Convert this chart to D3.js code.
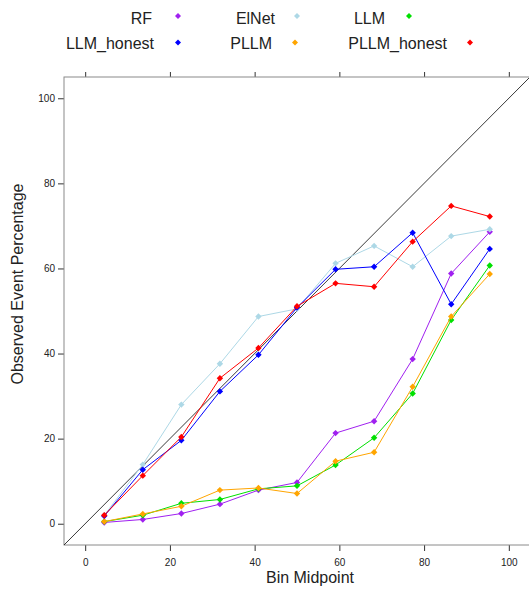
<!DOCTYPE html>
<html>
<head>
<meta charset="utf-8">
<script src="https://cdn.jsdelivr.net/npm/d3@7/dist/d3.min.js"></script>
<style>
  html, body { margin: 0; padding: 0; background: #fff; }
  svg { display: block; font-family: Arial, "Liberation Sans", sans-serif; }
</style>
</head>
<body>
<svg id="chart" width="529" height="594"></svg>
<script>
// ---- data ----
const binMid = [4.5, 13.6, 22.7, 31.8, 40.9, 50, 59.1, 68.2, 77.3, 86.4, 95.5];
const seriesNames = ["RF", "ElNet", "LLM", "LLM_honest", "PLLM", "PLLM_honest"];
const seriesColors = ["#a020f0", "#add8e6", "#00e000", "#0000ff", "#ffa500", "#ff0000"];
const RF          = [0.3, 1.0, 2.4, 4.6, 7.9, 9.7, 21.3, 24.1, 38.7, 58.8, 68.6];
const ElNet       = [2.0, 13.9, 28.0, 37.6, 48.7, 50.5, 61.2, 65.3, 60.4, 67.6, 69.2];
const LLM         = [0.5, 2.0, 4.8, 5.7, 8.2, 8.9, 13.8, 20.2, 30.6, 47.9, 60.7];
const LLM_honest  = [1.8, 12.7, 19.6, 31.1, 39.7, 50.8, 59.8, 60.4, 68.4, 51.6, 64.6];
const PLLM        = [0.5, 2.3, 4.1, 7.9, 8.4, 7.1, 14.7, 16.8, 32.2, 48.7, 58.7];
const PLLM_honest = [2.0, 11.3, 20.4, 34.2, 41.3, 51.1, 56.5, 55.7, 66.3, 74.7, 72.2];
const seriesValues = [RF, ElNet, LLM, LLM_honest, PLLM, PLLM_honest];
const tickValues = [0, 20, 40, 60, 80, 100];
const axisDomain = [-5, 105];
const xTitle = "Bin Midpoint";
const yTitle = "Observed Event Percentage";

// ---- layout ----
const svg = d3.select("#chart");
const L = 64, R = 530, T = 77, B = 545;
const x = d3.scaleLinear().domain(axisDomain).range([L, R]);
const y = d3.scaleLinear().domain(axisDomain).range([B, T]);

const frameCol = "#8a8a8a", tickCol = "#333";

// clip
svg.append("defs").append("clipPath").attr("id", "clip")
  .append("rect").attr("x", L).attr("y", T).attr("width", R - L).attr("height", B - T);

// axes (bottom/left with labels, top/right ticks only)
const axB = svg.append("g").attr("transform", `translate(0,${B})`)
  .call(d3.axisBottom(x).tickValues(tickValues).tickSize(6).tickPadding(8).tickSizeOuter(0));
const axL = svg.append("g").attr("transform", `translate(${L},0)`)
  .call(d3.axisLeft(y).tickValues(tickValues).tickSize(6).tickPadding(3).tickSizeOuter(0));
const axT = svg.append("g").attr("transform", `translate(0,${T})`)
  .call(d3.axisTop(x).tickValues(tickValues).tickSize(5).tickFormat("").tickSizeOuter(0));
const axR = svg.append("g").attr("transform", `translate(${R},0)`)
  .call(d3.axisRight(y).tickValues(tickValues).tickSize(5).tickFormat("").tickSizeOuter(0));
[axB, axL, axT, axR].forEach(g => {
  g.select(".domain").remove();
  g.selectAll(".tick line").attr("stroke", tickCol);
  g.selectAll(".tick text").attr("fill", "#222").style("font-size", "10px")
    .style("font-family", "Arial, 'Liberation Sans', sans-serif");
});

// frame
svg.append("rect").attr("x", L).attr("y", T).attr("width", R - L).attr("height", B - T)
  .attr("fill", "none").attr("stroke", frameCol).attr("stroke-width", 1);

const plot = svg.append("g").attr("clip-path", "url(#clip)");

// diagonal reference
plot.append("line")
  .attr("x1", x(axisDomain[0])).attr("y1", y(axisDomain[0]))
  .attr("x2", x(axisDomain[1])).attr("y2", y(axisDomain[1]))
  .attr("stroke", "#222").attr("stroke-width", 0.9);

const line = d3.line().x((d, i) => x(binMid[i])).y(d => y(d));
const diamond = (cx, cy, r) => `M${cx},${cy - r}L${cx + r},${cy}L${cx},${cy + r}L${cx - r},${cy}Z`;

seriesValues.forEach((vals, si) => {
  const g = plot.append("g");
  g.append("path").datum(vals).attr("d", line)
    .attr("fill", "none").attr("stroke", seriesColors[si]).attr("stroke-width", 1);
  g.selectAll("path.pt").data(vals).enter().append("path").attr("class", "pt")
    .attr("d", (d, i) => diamond(x(binMid[i]), y(d), 3.2))
    .attr("fill", seriesColors[si]);
});

// axis titles
svg.append("text").attr("x", 310).attr("y", 583).attr("text-anchor", "middle")
  .style("font-size", "16px").attr("fill", "#222").text(xTitle);
svg.append("text").attr("transform", "translate(23,284) rotate(-90)").attr("text-anchor", "middle")
  .style("font-size", "16px").attr("fill", "#222").text(yTitle);

// legend
const legendPos = [
  {tx: 152, ty: 24, mx: 178, my: 16},
  {tx: 275, ty: 24, mx: 297, my: 16},
  {tx: 385, ty: 24, mx: 409, my: 16},
  {tx: 154, ty: 49, mx: 178, my: 42.5},
  {tx: 272, ty: 49, mx: 295, my: 42.5},
  {tx: 447, ty: 49, mx: 470, my: 42.5}
];
const leg = svg.append("g");
seriesNames.forEach((n, i) => {
  const p = legendPos[i];
  leg.append("text").attr("x", p.tx).attr("y", p.ty).attr("text-anchor", "end")
    .style("font-size", "16px").attr("fill", "#222").text(n);
  leg.append("path").attr("d", diamond(p.mx, p.my, 3)).attr("fill", seriesColors[i]);
});
</script>
</body>
</html>
